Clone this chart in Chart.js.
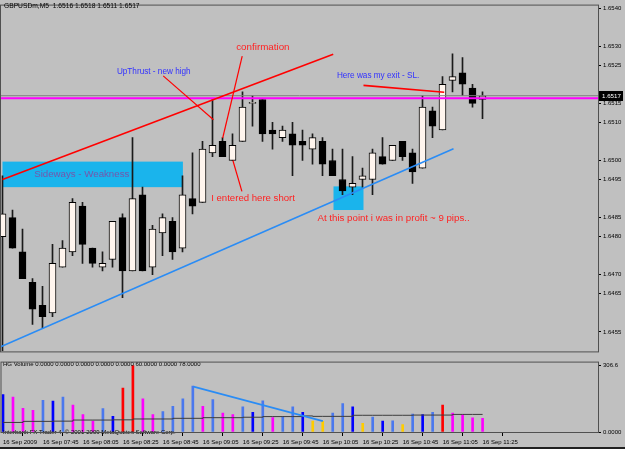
<!DOCTYPE html>
<html lang="en">
<head>
  <meta charset="UTF-8" />
  <title>GBPUSDm,M5</title>
  <script src="https://cdn.jsdelivr.net/npm/chart.js@4.4.0/dist/chart.umd.min.js"></script>
  <style>
    html, body {
      margin: 0;
      padding: 0;
      background: #c0c0c0;
    }

    #wrap {
      position: relative;
      width: 625px;
      height: 449px;
      overflow: hidden;
      background: #c0c0c0;
    }

    #priceBox {
      position: absolute;
      left: 0;
      top: 0;
      width: 625px;
      height: 357px;
    }

    #volBox {
      position: absolute;
      left: 0;
      top: 357px;
      width: 625px;
      height: 92px;
    }

    #bottomEdge {
      position: absolute;
      left: 0;
      bottom: 0;
      width: 625px;
      height: 2px;
      background: #202020;
    }
  </style>
</head>
<body>
  <div id="wrap">
    <div id="priceBox"><canvas id="priceChart"></canvas></div>
    <div id="volBox"><canvas id="volChart"></canvas></div>
    <div id="bottomEdge"></div>
  </div>

  <script>
    // GBPUSDm M5, 16 Sep 2009 07:25 - 11:25 (one entry per bar)
    const openP = [1.6480, 1.6485, 1.6476, 1.6468, 1.6462, 1.6460, 1.6472, 1.6476, 1.6488, 1.6477,
                   1.6472, 1.6474, 1.6485, 1.6471, 1.6491, 1.6472, 1.6481, 1.6484, 1.6477, 1.6490,
                   1.6489, 1.6502, 1.6505, 1.6500, 1.6505, 1.6515, 1.6516, 1.6508, 1.6506, 1.6507,
                   1.6505, 1.6503, 1.6505, 1.6500, 1.6495, 1.6493, 1.6495, 1.6495, 1.6501, 1.6500,
                   1.6505, 1.6502, 1.6498, 1.6513, 1.6508, 1.6521, 1.6523, 1.6519, 1.6516];
    const highP = [1.6496, 1.6487, 1.6482, 1.6469, 1.6467, 1.6478, 1.6479, 1.6490, 1.6489, 1.6477,
                   1.6476, 1.6484, 1.6486, 1.6506, 1.6493, 1.6483, 1.6486, 1.6485, 1.6496, 1.6502,
                   1.6505, 1.6516, 1.6506, 1.6507, 1.6518, 1.6517, 1.6516, 1.6510, 1.6509, 1.6510,
                   1.6508, 1.6507, 1.6506, 1.6503, 1.6503, 1.6501, 1.6498, 1.6503, 1.6506, 1.6504,
                   1.6505, 1.6503, 1.6517, 1.6514, 1.6522, 1.6528, 1.6527, 1.6520, 1.6518];
    const lowP  = [1.6450, 1.6477, 1.6469, 1.6457, 1.6456, 1.6459, 1.6472, 1.6475, 1.6473, 1.6472,
                   1.6471, 1.6472, 1.6464, 1.6471, 1.6471, 1.6470, 1.6475, 1.6474, 1.6476, 1.6486,
                   1.6489, 1.6501, 1.6501, 1.6500, 1.6505, 1.6509, 1.6505, 1.6503, 1.6505, 1.6496,
                   1.6500, 1.6499, 1.6496, 1.6496, 1.6491, 1.6491, 1.6493, 1.6491, 1.6499, 1.6500,
                   1.6500, 1.6494, 1.6498, 1.6506, 1.6508, 1.6518, 1.6517, 1.6514, 1.6511];
    const closeP = [1.6486, 1.6477, 1.6469, 1.6461, 1.6459, 1.6473, 1.6477, 1.6489, 1.6478, 1.6473,
                    1.6473, 1.6484, 1.6471, 1.6490, 1.6471, 1.6482, 1.6485, 1.6476, 1.6491, 1.6488,
                    1.6503, 1.6504, 1.6501, 1.6504, 1.6514, 1.6515, 1.6507, 1.6507, 1.6508, 1.6504,
                    1.6504, 1.6506, 1.6499, 1.6496, 1.6492, 1.6494, 1.6496, 1.6502, 1.6499, 1.6504,
                    1.6501, 1.6497, 1.6514, 1.6509, 1.6520, 1.6522, 1.6520, 1.6515, 1.6517];

    // HG Volume indicator: tick volume, bar class and its average
    const volume = [172, 161, 109, 100, 146, 142, 161, 124, 80, 50,
                    108, 72, 202, 306, 153, 80, 94, 118, 153, 212,
                    118, 149, 87, 80, 116, 91, 144, 66, 72, 116,
                    91, 50, 49, 87, 131, 116, 40, 69, 50, 52,
                    34, 83, 80, 91, 124, 87, 80, 65, 63];
    const volClass = ['B', 'M', 'M', 'M', 'L', 'B', 'L', 'M', 'M', 'M',
                      'L', 'B', 'R', 'R', 'M', 'M', 'L', 'L', 'L', 'L',
                      'M', 'L', 'M', 'M', 'L', 'B', 'L', 'M', 'L', 'L',
                      'B', 'Y', 'Y', 'L', 'L', 'B', 'Y', 'L', 'B', 'L',
                      'Y', 'L', 'B', 'L', 'R', 'M', 'M', 'M', 'M'];
    const volAvg = [44, 44, 49, 49, 49, 50, 50, 55, 55, 55,
                    55, 56, 56, 60, 60, 60, 60, 63, 63, 63,
                    66, 66, 66, 66, 68, 68, 71, 71, 71, 71,
                    74, 72, 72, 72, 72, 77, 77, 77, 77, 77,
                    77, 78, 78, 78, 78, 81, 81, 81, 81];

    const priceTicks = [1.6540, 1.6530, 1.6525, 1.6515, 1.6510, 1.6500, 1.6495, 1.6485, 1.6480, 1.6470, 1.6465, 1.6455];
    const volTicks = [306.6, 0];
    const timeBars = [0, 4, 8, 12, 16, 20, 24, 28, 32, 36, 40, 44, 48];
    const timeLabels = ['16 Sep 2009', '16 Sep 07:45', '16 Sep 08:05', '16 Sep 08:25', '16 Sep 08:45',
                        '16 Sep 09:05', '16 Sep 09:25', '16 Sep 09:45', '16 Sep 10:05', '16 Sep 10:25',
                        '16 Sep 10:45', '16 Sep 11:05', '16 Sep 11:25'];

    const volColors = { B: '#0000ff', L: '#4a78ee', M: '#ff00ff', R: '#ff0000', Y: '#ffcc00' };
    const FONT = '"Liberation Sans", Arial, sans-serif';
    const last = closeP.length - 1;

    // objects drawn on the chart (bar index, price)
    const boxes = [
      { x0: 0, x1: 18.04, y0: 1.64997, y1: 1.64930, color: '#1ab4ec' },
      { x0: 33.1, x1: 36.1, y0: 1.64932, y1: 1.64870, color: '#1ab4ec' }
    ];
    const lines = [
      { from: [0, 1.64950], to: [33.07, 1.65279], color: '#ff0000', width: 1.6 },
      { from: [-0.25, 1.64510], to: [45.1, 1.65031], color: '#2a8cf5', width: 1.6 },
      { from: [16.07, 1.65222], to: [21.1, 1.65107], color: '#ff0000', width: 1.2 },
      { from: [23.97, 1.65274], to: [22.02, 1.65059], color: '#ff0000', width: 1.2 },
      { from: [23.04, 1.65000], to: [23.94, 1.64919], color: '#ff0000', width: 1.2 },
      { from: [36.1, 1.65197], to: [44.17, 1.65179], color: '#ff0000', width: 1.6 }
    ];
    const notes = [
      { text: 'Sideways - Weakness', x: 3.17, y: 1.64964, size: 9.7, color: '#7656aa', under: true },
      { text: 'confirmation', x: 23.37, y: 1.65296, size: 9.8, color: '#ff2222' },
      { text: 'UpThrust - new high', x: 11.44, y: 1.65232, size: 8.2, color: '#3030ff' },
      { text: 'Here was my exit - SL.', x: 33.44, y: 1.65223, size: 8.2, color: '#3030ff' },
      { text: 'I entered here short', x: 20.87, y: 1.64900, size: 9.6, color: '#ff2222' },
      { text: 'At this point i was in profit ~ 9 pips..', x: 31.5, y: 1.64848, size: 9.7, color: '#ff2222' }
    ];
    const hLines = [
      { y: 1.6517, color: '#808080', width: 1 },
      { y: 1.65163, color: '#ff00ff', width: 2 }
    ];

    function clipArea(ctx, a) {
      ctx.beginPath();
      ctx.rect(a.left, a.top, a.right - a.left, a.bottom - a.top);
      ctx.clip();
    }

    function drawNotes(chart, under) {
      const { ctx } = chart;
      const sx = chart.scales.x, sy = chart.scales.y;
      ctx.textAlign = 'left';
      ctx.textBaseline = 'middle';
      notes.filter(n => !!n.under === under).forEach(n => {
        ctx.font = n.size + 'px ' + FONT;
        ctx.fillStyle = n.color;
        ctx.fillText(n.text, sx.getPixelForValue(n.x), sy.getPixelForValue(n.y));
      });
    }

    function frame(ctx, a) {
      ctx.save();
      ctx.strokeStyle = '#505050';
      ctx.lineWidth = 1;
      ctx.strokeRect(a.left - 0.5, a.top - 0.5, a.right - a.left + 1, a.bottom - a.top + 1);
      ctx.restore();
    }

    const priceOverlay = {
      id: 'priceOverlay',
      beforeDatasetsDraw(chart) {
        const { ctx, chartArea } = chart;
        const sx = chart.scales.x, sy = chart.scales.y;
        ctx.save();
        clipArea(ctx, chartArea);
        boxes.forEach(b => {
          const x0 = sx.getPixelForValue(b.x0), x1 = sx.getPixelForValue(b.x1);
          const y0 = sy.getPixelForValue(b.y0), y1 = sy.getPixelForValue(b.y1);
          ctx.fillStyle = b.color;
          ctx.fillRect(x0, y0, x1 - x0, y1 - y0);
        });
        drawNotes(chart, true);
        ctx.restore();
      },
      afterDatasetsDraw(chart) {
        const { ctx, chartArea } = chart;
        const sx = chart.scales.x, sy = chart.scales.y;
        ctx.save();
        clipArea(ctx, chartArea);
        hLines.forEach(h => {
          const y = sy.getPixelForValue(h.y);
          ctx.strokeStyle = h.color;
          ctx.lineWidth = h.width;
          ctx.beginPath();
          ctx.moveTo(chartArea.left, y);
          ctx.lineTo(chartArea.right, y);
          ctx.stroke();
        });
        lines.forEach(l => {
          ctx.strokeStyle = l.color;
          ctx.lineWidth = l.width;
          ctx.beginPath();
          ctx.moveTo(sx.getPixelForValue(l.from[0]), sy.getPixelForValue(l.from[1]));
          ctx.lineTo(sx.getPixelForValue(l.to[0]), sy.getPixelForValue(l.to[1]));
          ctx.stroke();
        });
        drawNotes(chart, false);
        ctx.restore();
      },
      afterDraw(chart) {
        const { ctx, chartArea } = chart;
        const sy = chart.scales.y;
        frame(ctx, chartArea);
        ctx.save();
        // symbol line with the last bar
        ctx.font = '6.7px ' + FONT;
        ctx.fillStyle = '#000';
        ctx.textAlign = 'left';
        ctx.textBaseline = 'middle';
        const ohlc = [openP[last], highP[last], lowP[last], closeP[last]].map(v => v.toFixed(4)).join(' ');
        ctx.fillText('GBPUSDm,M5  ' + ohlc, 4, 6.5);

        // current price marker
        const y = Math.round(sy.getPixelForValue(closeP[last]));
        ctx.fillStyle = '#000';
        ctx.fillRect(chartArea.right + 1, y - 5, 24, 10);
        ctx.fillStyle = '#fff';
        ctx.font = '6.2px ' + FONT;
        ctx.fillText(closeP[last].toFixed(4), chartArea.right + 4, y + 0.5);
        ctx.restore();
      }
    };

    const volOverlay = {
      id: 'volOverlay',
      afterDatasetsDraw(chart) {
        const { ctx, chartArea } = chart;
        const sx = chart.scales.x, sy = chart.scales.y;
        ctx.save();
        clipArea(ctx, chartArea);
        ctx.strokeStyle = '#2a8cf5';
        ctx.lineWidth = 1.6;
        ctx.beginPath();
        ctx.moveTo(sx.getPixelForValue(19.06), sy.getPixelForValue(209));
        ctx.lineTo(sx.getPixelForValue(32.01), sy.getPixelForValue(50));
        ctx.stroke();
        ctx.restore();

        ctx.save();
        ctx.font = '6px ' + FONT;
        ctx.fillStyle = '#000';
        ctx.textAlign = 'left';
        ctx.textBaseline = 'middle';
        ctx.fillText('HG Volume 0.0000 0.0000 0.0000 0.0000 0.0000 60.0000 0.0000 78.0000', 3, 7.5);
        ctx.fillText('Interbank FX Trader 4, \u00a9 2001-2009 MetaQuotes Software Corp.', 3, 75.5);
        ctx.restore();
      },
      afterDraw(chart) {
        frame(chart.ctx, chart.chartArea);
      }
    };

    function renderPrice() {
      const idx = openP.map((_, i) => i);
      new Chart(document.getElementById('priceChart'), {
        type: 'bar',
        data: {
          datasets: [
            {
              label: 'Body',
              data: idx.map(i => ({ x: i, y: [openP[i], closeP[i]] })),
              backgroundColor: idx.map(i => closeP[i] >= openP[i] ? '#fff5ee' : '#000000'),
              borderColor: '#000000',
              borderWidth: 1,
              borderSkipped: false,
              barThickness: 7,
              minBarLength: 1,
              grouped: false,
              order: 0
            },
            {
              label: 'Wick',
              data: idx.map(i => ({ x: i, y: [lowP[i], highP[i]] })),
              backgroundColor: '#1a1a1a',
              barThickness: 1,
              grouped: false,
              order: 1
            }
          ]
        },
        options: {
          responsive: true,
          maintainAspectRatio: false,
          animation: false,
          layout: { padding: { left: 1, top: 1, right: 0, bottom: 1 } },
          plugins: { legend: { display: false }, tooltip: { enabled: false } },
          scales: {
            x: {
              type: 'linear',
              min: -0.15,
              max: 59.55,
              offset: false,
              display: false
            },
            y: {
              position: 'right',
              min: 1.644989,
              max: 1.654065,
              afterBuildTicks: s => { s.ticks = priceTicks.map(v => ({ value: v })); },
              afterFit: s => { s.width = 27; },
              grid: { drawOnChartArea: false, tickLength: 3, color: '#000' },
              border: { display: false },
              ticks: {
                autoSkip: false,
                padding: 2,
                color: '#000',
                font: { family: FONT, size: 6 },
                callback: v => Number(v).toFixed(4)
              }
            }
          }
        },
        plugins: [priceOverlay]
      });
    }

    function renderVolume() {
      const idx = volume.map((_, i) => i);
      new Chart(document.getElementById('volChart'), {
        type: 'bar',
        data: {
          datasets: [
            {
              type: 'line',
              label: 'Average',
              data: idx.map(i => ({ x: i, y: volAvg[i] })),
              borderColor: '#3c3c3c',
              borderWidth: 1,
              pointRadius: 0,
              stepped: true,
              order: 0
            },
            {
              label: 'HG Volume',
              data: idx.map(i => ({ x: i, y: volume[i] })),
              backgroundColor: idx.map(i => volColors[volClass[i]]),
              barThickness: 2,
              grouped: false,
              order: 1
            }
          ]
        },
        options: {
          responsive: true,
          maintainAspectRatio: false,
          animation: false,
          layout: { padding: { left: 1, top: 2, right: 0, bottom: 0 } },
          plugins: { legend: { display: false }, tooltip: { enabled: false } },
          scales: {
            x: {
              type: 'linear',
              min: -0.15,
              max: 59.55,
              offset: false,
              afterBuildTicks: s => { s.ticks = timeBars.map(v => ({ value: v })); },
              afterFit: s => { s.height = 17; },
              grid: { drawOnChartArea: false, tickLength: 4, color: '#000' },
              border: { display: false },
              ticks: {
                autoSkip: false,
                maxRotation: 0,
                align: 'start',
                padding: 3,
                color: '#000',
                font: { family: FONT, size: 6 },
                callback: (v, i) => timeLabels[i]
              }
            },
            y: {
              position: 'right',
              min: 0,
              max: 319.7,
              afterBuildTicks: s => { s.ticks = volTicks.map(v => ({ value: v })); },
              afterFit: s => { s.width = 27; },
              grid: { drawOnChartArea: false, tickLength: 3, color: '#000' },
              border: { display: false },
              ticks: {
                autoSkip: false,
                padding: 2,
                color: '#000',
                font: { family: FONT, size: 6 },
                callback: v => v === 0 ? '0.0000' : String(v)
              }
            }
          }
        },
        plugins: [volOverlay]
      });
    }

    renderPrice();
    renderVolume();
  </script>
</body>
</html>
